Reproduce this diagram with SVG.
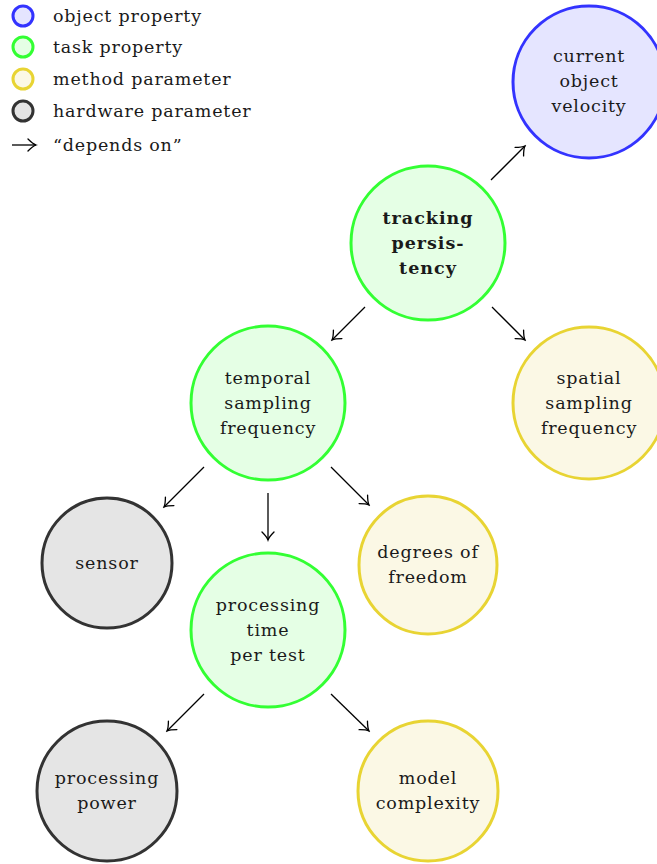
<svg xmlns="http://www.w3.org/2000/svg" width="657" height="864" viewBox="0 0 657 864">
<style>
  text { font-family: "DejaVu Serif", "Liberation Serif", serif; font-size: 17.5px; letter-spacing: 0.8px; fill: #1a1a1a; }
  .lbl { text-anchor: middle; }
  .b { font-weight: bold; letter-spacing: 1px; }
  .obj { fill: #e5e5ff; stroke: #3333ff; stroke-width: 3; }
  .task { fill: #e5ffe5; stroke: #33ff33; stroke-width: 3; }
  .meth { fill: #fbf8e5; stroke: #e8d433; stroke-width: 3; }
  .hw { fill: #e5e5e5; stroke: #333333; stroke-width: 3; }
  .edge { stroke: #000; stroke-width: 1.3; fill: none; marker-end: url(#to); }
</style>
<defs>
  <marker id="to" viewBox="-10 -8 12 16" markerWidth="12" markerHeight="16" refX="0" refY="0" orient="auto" markerUnits="userSpaceOnUse">
    <path d="M-8,-6 Q-3,-1 0,0 Q-3,1 -8,6" fill="none" stroke="#000" stroke-width="1.3" stroke-linecap="round"/>
  </marker>
</defs>

<!-- legend -->
<g id="legend">
  <circle class="obj" cx="23" cy="16" r="10"/>
  <text x="53" y="22">object property</text>
  <circle class="task" cx="23" cy="47" r="10"/>
  <text x="53" y="53">task property</text>
  <circle class="meth" cx="23" cy="79" r="10"/>
  <text x="53" y="85">method parameter</text>
  <circle class="hw" cx="23" cy="111" r="10"/>
  <text x="53" y="117">hardware parameter</text>
  <line class="edge" x1="12" y1="145" x2="36" y2="145"/>
  <text x="53" y="151">“depends on”</text>
</g>

<!-- nodes -->
<g id="current-object-velocity">
  <circle class="obj" cx="589" cy="82" r="76"/>
  <text class="lbl" x="589" y="62">current</text>
  <text class="lbl" x="589" y="87">object</text>
  <text class="lbl" x="589" y="112">velocity</text>
</g>
<g id="tracking-persistency">
  <circle class="task" cx="428" cy="243" r="77"/>
  <text class="lbl b" x="428" y="224">tracking</text>
  <text class="lbl b" x="428" y="249">persis-</text>
  <text class="lbl b" x="428" y="274">tency</text>
</g>
<g id="temporal-sampling-frequency">
  <circle class="task" cx="268" cy="403" r="77"/>
  <text class="lbl" x="268" y="384">temporal</text>
  <text class="lbl" x="268" y="409">sampling</text>
  <text class="lbl" x="268" y="434">frequency</text>
</g>
<g id="spatial-sampling-frequency">
  <circle class="meth" cx="589" cy="403" r="76"/>
  <text class="lbl" x="589" y="384">spatial</text>
  <text class="lbl" x="589" y="409">sampling</text>
  <text class="lbl" x="589" y="434">frequency</text>
</g>
<g id="sensor">
  <circle class="hw" cx="107" cy="563" r="65"/>
  <text class="lbl" x="107" y="569">sensor</text>
</g>
<g id="degrees-of-freedom">
  <circle class="meth" cx="428" cy="565" r="69"/>
  <text class="lbl" x="428" y="558">degrees of</text>
  <text class="lbl" x="428" y="583">freedom</text>
</g>
<g id="processing-time-per-test">
  <circle class="task" cx="268" cy="630" r="77"/>
  <text class="lbl" x="268" y="611">processing</text>
  <text class="lbl" x="268" y="636">time</text>
  <text class="lbl" x="268" y="661">per test</text>
</g>
<g id="processing-power">
  <circle class="hw" cx="107" cy="791" r="70"/>
  <text class="lbl" x="107" y="784">processing</text>
  <text class="lbl" x="107" y="809">power</text>
</g>
<g id="model-complexity">
  <circle class="meth" cx="428" cy="791" r="70"/>
  <text class="lbl" x="428" y="784">model</text>
  <text class="lbl" x="428" y="809">complexity</text>
</g>

<!-- connectors -->
<g id="connectors">
  <line class="edge" x1="491" y1="180" x2="525" y2="146"/>
  <line class="edge" x1="365" y1="307" x2="332" y2="340"/>
  <line class="edge" x1="492" y1="307" x2="525" y2="340"/>
  <line class="edge" x1="204" y1="467" x2="164" y2="507"/>
  <line class="edge" x1="268" y1="493" x2="268" y2="540"/>
  <line class="edge" x1="331" y1="467" x2="369" y2="505"/>
  <line class="edge" x1="204" y1="694" x2="167" y2="731"/>
  <line class="edge" x1="331" y1="694" x2="369" y2="731"/>
</g>
</svg>
